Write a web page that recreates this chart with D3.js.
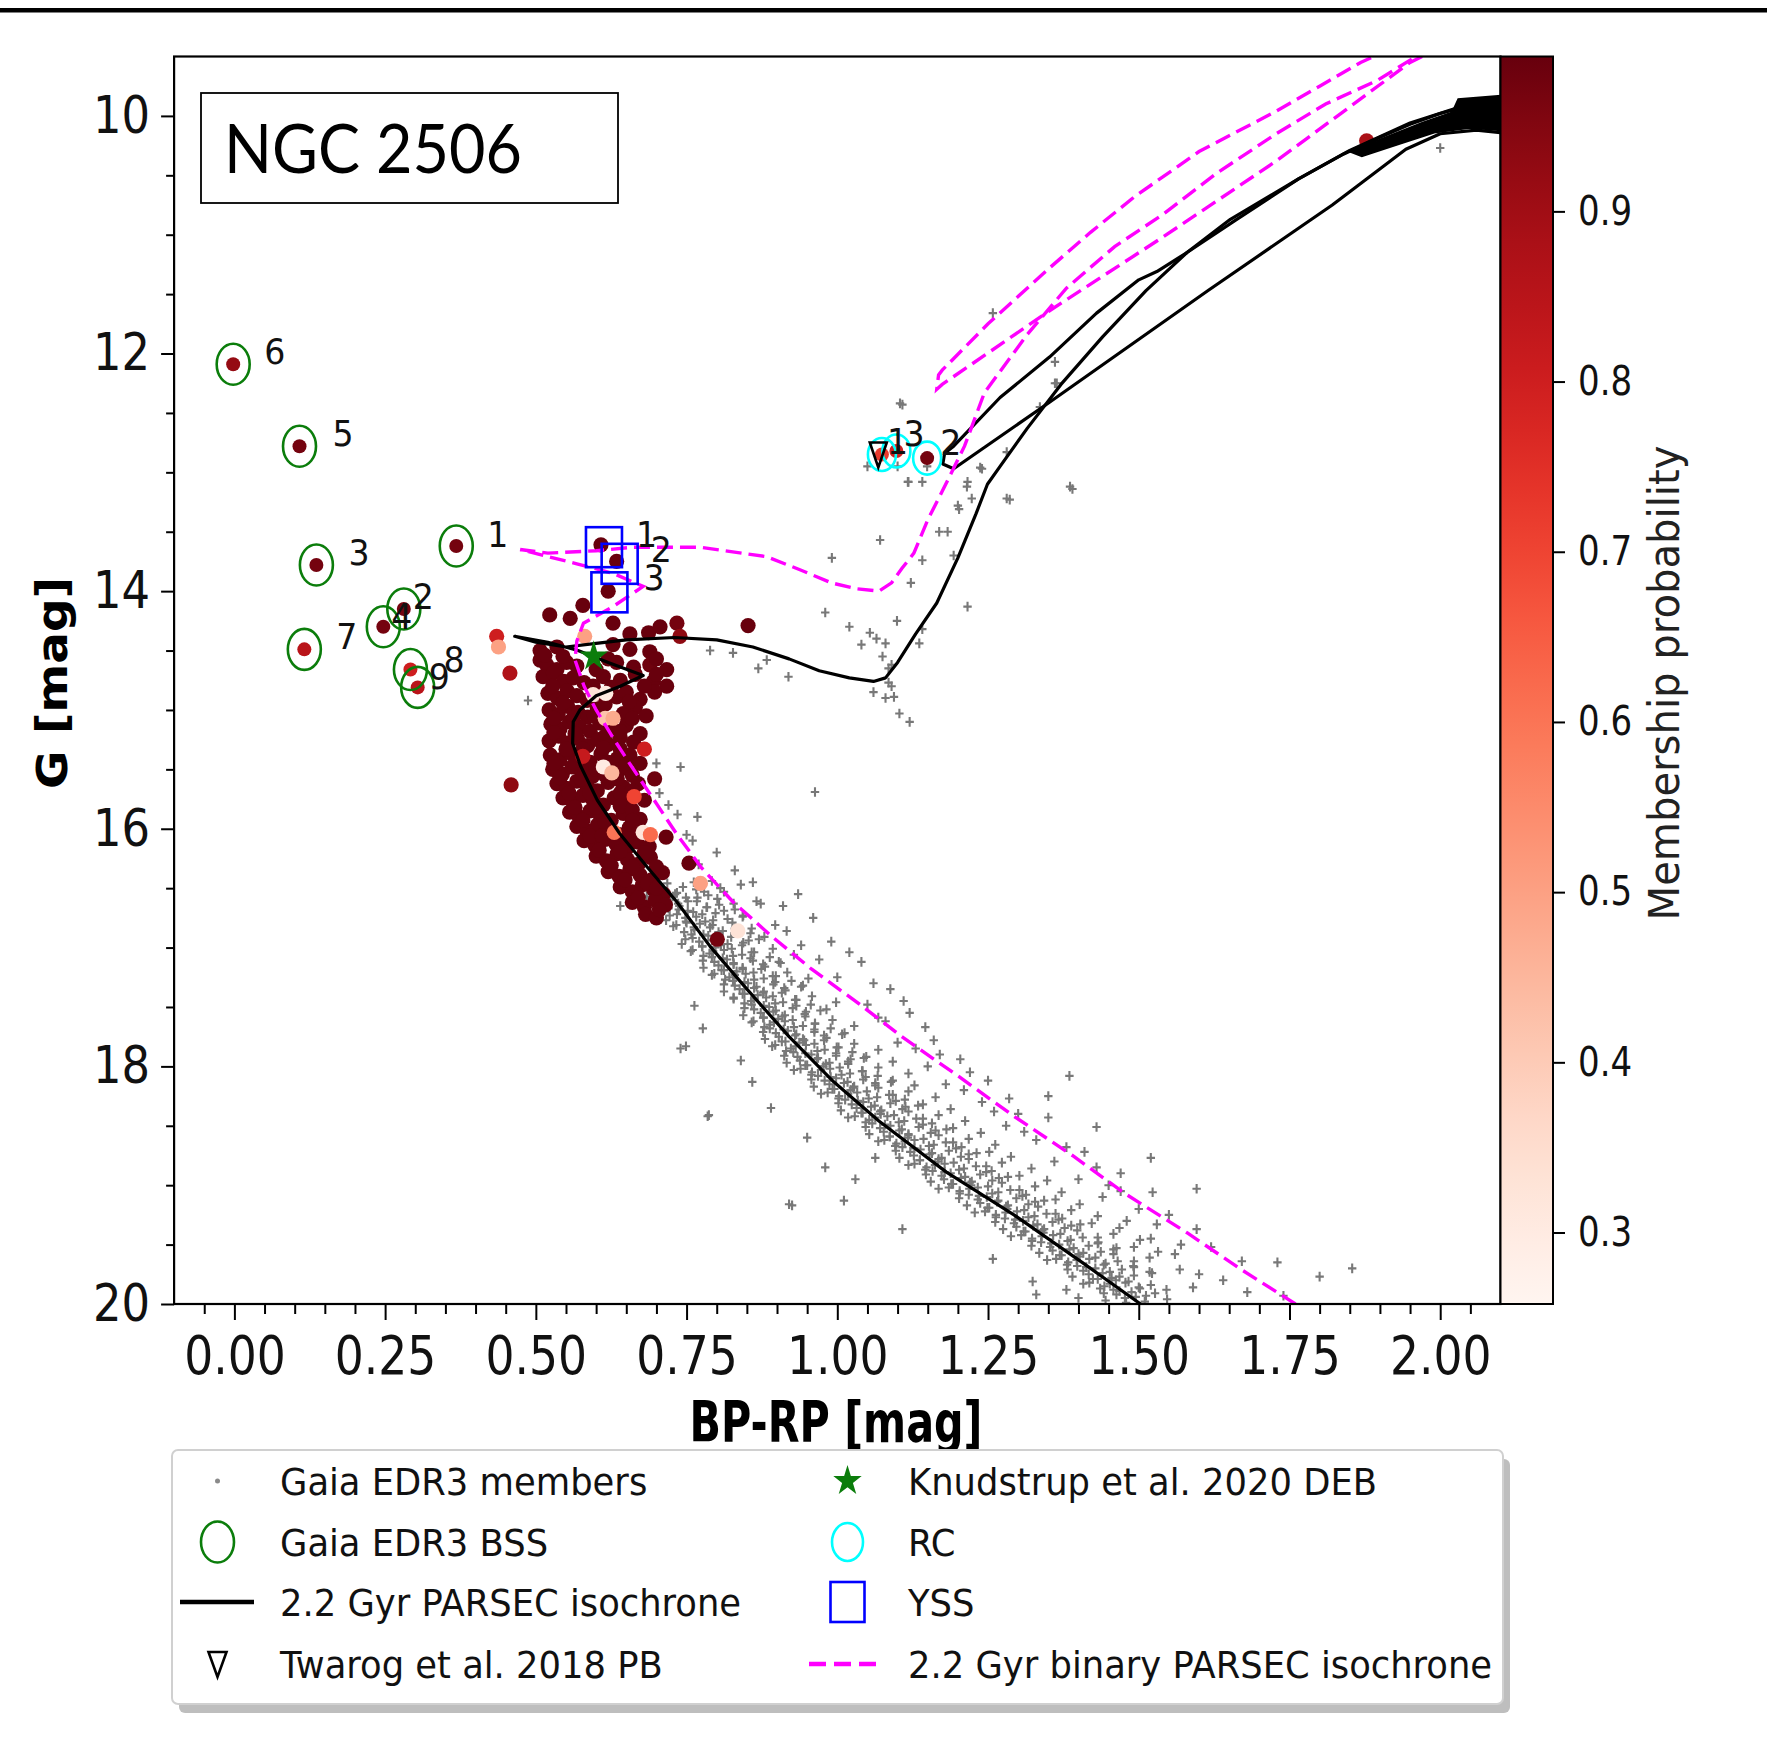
<!DOCTYPE html>
<html><head><meta charset="utf-8">
<script src="https://cdn.jsdelivr.net/npm/d3@7"></script>
<style>body{margin:0;background:#fff}svg{display:block}</style>
</head><body>
<svg id="c" width="1767" height="1755"></svg>
<script>
// ---------------- DATA ----------------
const xMajorTicks = [0,0.25,0.5,0.75,1.0,1.25,1.5,1.75,2.0];
const yMajorTicks = [10,12,14,16,18,20];
const cbTicks = [0.3,0.4,0.5,0.6,0.7,0.8,0.9];
const xDomain = [-0.1, 2.1];
const yDomain = [9.5, 20];
const probDomain = [0.258, 0.991];

// Gaia EDR3 members (gray) [BP-RP, G]
const gaiaMembers = [
[0.705,16.52],[0.718,16.46],[0.731,16.55],[0.744,16.49],[0.762,16.45],[0.779,16.53],[0.806,16.50],[0.84,16.47],
[0.712,16.60],[0.727,16.57],[0.738,16.65],[0.752,16.61],[0.768,16.58],[0.783,16.66],[0.801,16.59],[0.828,16.63],[0.866,16.61],
[0.722,16.73],[0.737,16.68],[0.748,16.75],[0.761,16.70],[0.776,16.72],[0.794,16.77],[0.812,16.69],[0.843,16.74],
[0.733,16.81],[0.749,16.78],[0.763,16.85],[0.772,16.80],[0.789,16.83],[0.803,16.87],[0.826,16.79],[0.858,16.84],[0.897,16.81],
[0.748,16.93],[0.758,16.89],[0.771,16.95],[0.786,16.90],[0.797,16.92],[0.818,16.97],[0.832,16.88],[0.853,16.94],[0.879,16.91],
[0.757,17.03],[0.776,16.99],[0.788,17.05],[0.798,17.00],[0.812,17.02],[0.827,17.07],[0.842,16.98],[0.858,17.04],[0.893,17.01],[0.928,17.06],
[0.777,17.11],[0.792,17.08],[0.803,17.15],[0.817,17.10],[0.828,17.13],[0.843,17.17],[0.856,17.09],[0.877,17.14],[0.903,17.12],
[0.792,17.23],[0.808,17.19],[0.821,17.25],[0.833,17.20],[0.848,17.22],[0.862,17.27],[0.874,17.18],[0.893,17.24],[0.917,17.21],[0.952,17.26],
[0.812,17.31],[0.827,17.28],[0.838,17.35],[0.852,17.30],[0.866,17.33],[0.878,17.37],[0.897,17.29],[0.912,17.34],[0.943,17.32],
[0.828,17.43],[0.843,17.39],[0.857,17.45],[0.868,17.40],[0.882,17.42],[0.897,17.47],[0.908,17.38],[0.932,17.44],[0.958,17.41],[0.998,17.46],
[0.846,17.51],[0.858,17.48],[0.873,17.55],[0.887,17.50],[0.898,17.53],[0.913,17.57],[0.932,17.49],[0.948,17.54],[0.982,17.52],
[0.858,17.63],[0.877,17.59],[0.888,17.65],[0.902,17.60],[0.913,17.62],[0.928,17.67],[0.947,17.58],[0.963,17.64],[0.992,17.61],[1.028,17.66],
[0.877,17.71],[0.888,17.68],[0.903,17.75],[0.918,17.70],[0.932,17.73],[0.943,17.77],[0.962,17.69],[0.978,17.74],[1.012,17.72],
[0.892,17.83],[0.908,17.79],[0.923,17.85],[0.937,17.80],[0.948,17.82],[0.967,17.87],[0.978,17.78],[1.002,17.84],[1.028,17.81],[1.068,17.86],
[0.912,17.91],[0.927,17.88],[0.938,17.95],[0.957,17.90],[0.968,17.93],[0.987,17.97],[0.998,17.89],[1.022,17.94],[1.048,17.92],[1.092,17.96],
[0.928,18.03],[0.947,17.99],[0.958,18.05],[0.977,18.00],[0.988,18.02],[1.007,18.07],[1.018,17.98],[1.042,18.04],[1.068,18.01],[1.118,18.06],
[0.957,18.11],[0.968,18.08],[0.987,18.15],[0.998,18.10],[1.017,18.13],[1.028,18.17],[1.047,18.09],[1.063,18.14],[1.092,18.12],[1.128,18.16],
[0.973,18.23],[0.992,18.19],[1.003,18.25],[1.022,18.20],[1.033,18.22],[1.052,18.27],[1.068,18.18],[1.092,18.24],[1.118,18.21],[1.163,18.26],
[1.002,18.31],[1.013,18.28],[1.032,18.35],[1.043,18.30],[1.062,18.33],[1.073,18.37],[1.097,18.29],[1.113,18.34],[1.142,18.32],[1.188,18.36],
[1.018,18.43],[1.042,18.39],[1.053,18.45],[1.072,18.40],[1.083,18.42],[1.102,18.47],[1.118,18.38],[1.142,18.44],[1.168,18.41],[1.212,18.46],
[1.047,18.51],[1.058,18.48],[1.077,18.55],[1.088,18.50],[1.107,18.53],[1.118,18.57],[1.142,18.49],[1.163,18.54],[1.192,18.52],[1.238,18.56],
[1.068,18.63],[1.087,18.59],[1.098,18.65],[1.117,18.60],[1.128,18.62],[1.152,18.67],[1.168,18.58],[1.192,18.64],[1.218,18.61],[1.262,18.66],
[1.097,18.71],[1.108,18.68],[1.127,18.75],[1.138,18.70],[1.157,18.73],[1.173,18.77],[1.197,18.69],[1.218,18.74],[1.252,18.72],[1.288,18.76],
[1.118,18.83],[1.137,18.79],[1.148,18.85],[1.167,18.80],[1.178,18.82],[1.202,18.87],[1.218,18.78],[1.247,18.84],[1.273,18.81],[1.322,18.86],
[1.147,18.91],[1.158,18.88],[1.177,18.95],[1.188,18.90],[1.212,18.93],[1.223,18.97],[1.247,18.89],[1.268,18.94],[1.302,18.92],[1.348,18.96],
[1.168,19.03],[1.192,18.99],[1.203,19.05],[1.222,19.00],[1.233,19.02],[1.257,19.07],[1.273,18.98],[1.302,19.04],[1.328,19.01],[1.372,19.06],
[1.202,19.11],[1.218,19.08],[1.237,19.15],[1.248,19.10],[1.267,19.13],[1.283,19.17],[1.307,19.09],[1.328,19.14],[1.362,19.12],[1.402,19.16],
[1.228,19.23],[1.252,19.19],[1.263,19.25],[1.282,19.20],[1.298,19.22],[1.317,19.27],[1.333,19.18],[1.362,19.24],[1.388,19.21],[1.432,19.26],
[1.262,19.31],[1.278,19.28],[1.297,19.35],[1.308,19.30],[1.332,19.33],[1.343,19.37],[1.367,19.29],[1.388,19.34],[1.422,19.32],[1.468,19.36],
[1.288,19.43],[1.312,19.39],[1.323,19.45],[1.342,19.40],[1.358,19.42],[1.382,19.47],[1.398,19.38],[1.432,19.44],[1.458,19.41],[1.502,19.46],
[1.322,19.51],[1.338,19.48],[1.357,19.55],[1.368,19.50],[1.392,19.53],[1.408,19.57],[1.432,19.49],[1.458,19.54],[1.492,19.52],[1.532,19.56],
[1.348,19.63],[1.372,19.59],[1.383,19.65],[1.402,19.60],[1.418,19.62],[1.442,19.67],[1.458,19.58],[1.492,19.64],[1.518,19.61],
[1.382,19.71],[1.398,19.68],[1.417,19.75],[1.428,19.70],[1.452,19.73],[1.468,19.77],[1.492,19.69],[1.522,19.74],
[1.408,19.83],[1.432,19.79],[1.443,19.85],[1.462,19.80],[1.478,19.82],[1.502,19.87],
[1.442,19.91],[1.458,19.88],[1.477,19.95],[1.488,19.90],[1.512,19.93],
// scattered / binaries / outliers
[0.74,17.85],[0.785,18.42],[0.92,19.16],[1.854,19.70],[1.80,19.77],[1.73,19.65],[1.671,19.64],[1.596,19.03],[1.596,19.37],[1.568,19.71],
[1.52,18.77],[1.523,19.06],[1.47,18.90],[1.43,18.51],[1.385,18.08],[1.35,18.25],[1.285,18.27],[1.35,18.43],[1.204,17.94],[1.146,17.67],
[1.088,17.35],[1.108,19.37],[1.258,19.62],[1.324,19.81],[1.59,19.86],[1.62,19.52],[1.55,19.25],[1.50,19.20],[1.45,19.00],[1.41,18.72],
[1.31,18.55],[1.26,18.38],[1.22,18.05],[1.17,17.90],[1.12,17.55],[1.06,17.30],[1.04,17.12],[0.99,16.95],[0.963,15.69],[0.935,16.55],
[0.873,16.63],[0.916,16.86],[1.02,17.04],[1.068,17.59],[0.763,17.49],[0.777,17.68],[0.749,17.83],[0.787,18.41],[0.74,15.48],[0.735,15.88],
[0.768,15.90],[0.792,16.44],[0.64,16.65],[0.487,14.92],[0.70,15.45],[0.925,19.17],[1.011,19.13],[1.063,18.77],[0.859,18.13],[0.95,18.60],
[0.98,18.85],[1.03,18.95],[0.89,18.35],[0.84,17.95],[1.74,19.93],[1.68,19.90],[1.40,19.95],[1.33,19.92],[1.38,19.88],
[0.77,16.30],[0.80,16.20],[0.76,16.10],[0.83,16.35],[0.72,15.80],[0.75,16.05],[0.86,16.45],[0.91,16.65],[0.96,16.75],[0.705,15.70],
[1.08,17.62],[1.10,17.80],[1.15,18.00],[1.18,18.15],[1.24,18.30],[1.28,18.50],[1.33,18.62],[1.36,18.80],[1.40,18.95],[1.44,19.10],
[1.48,19.30],[1.52,19.45],[1.56,19.58],[1.60,19.75],[1.05,17.48],[1.00,17.25],[0.97,17.10],[0.94,16.98],[1.13,17.85],[1.21,18.20],
[1.30,18.40],[1.38,18.68],[1.43,18.85],[1.47,19.05],[1.53,19.33],[1.57,19.50],[1.64,19.80],[1.25,18.12],[1.16,17.78],[1.11,17.45],
// subgiant / giant region
[0.789,14.50],[0.827,14.52],[0.869,14.65],[0.883,14.58],[0.919,14.72],[0.991,13.72],[1.054,14.35],[1.065,14.40],[1.04,14.45],[1.075,14.55],
[1.085,14.65],[1.09,14.80],[1.08,14.90],[1.06,14.85],[1.099,14.25],[1.141,14.32],[1.136,14.44],[1.09,14.62],[1.085,14.77],[1.094,14.89],
[1.08,14.44],[1.122,13.93],[1.141,13.74],[1.071,13.57],[1.193,13.70],[1.169,13.50],[1.183,13.50],[1.202,13.31],[1.118,13.08],[1.141,13.08],
[1.216,13.08],[1.216,14.13],[1.39,13.14],[1.286,13.23],[1.24,12.97],[1.104,12.42],[1.117,13.08],[1.237,12.96],[1.215,13.12],[1.223,13.22],
[1.281,13.22],[1.386,13.12],[1.2,13.28],[1.364,12.25],[1.336,12.45],[1.281,12.83],[1.258,11.66],[1.108,12.43],[1.361,12.07],[1.361,12.25],
[1.149,12.95],[1.10,12.95],[1.05,12.95],[2.0,10.27],[1.103,15.03],[1.12,15.10],[0.98,14.18],[1.02,14.30]
];
// Gaia EDR3 members, dense main-sequence ridge (gray) [BP-RP, G]
const gaiaRidge = [
[0.684,16.57],[0.702,16.52],[0.718,16.59],[0.734,16.54],[0.749,16.58],[0.766,16.51],[0.786,16.56],[0.812,16.53],
[0.702,16.62],[0.72,16.67],[0.736,16.63],[0.752,16.69],[0.767,16.61],[0.784,16.66],[0.804,16.64],[0.83,16.68],
[0.716,16.77],[0.734,16.72],[0.75,16.79],[0.766,16.74],[0.781,16.78],[0.798,16.71],[0.818,16.76],[0.844,16.73],
[0.728,16.82],[0.746,16.87],[0.762,16.83],[0.778,16.89],[0.793,16.81],[0.81,16.86],[0.83,16.84],[0.856,16.88],
[0.742,16.97],[0.76,16.92],[0.776,16.99],[0.792,16.94],[0.807,16.98],[0.824,16.91],[0.844,16.96],[0.87,16.93],
[0.76,17.02],[0.778,17.07],[0.794,17.03],[0.81,17.09],[0.825,17.01],[0.842,17.06],[0.862,17.04],[0.888,17.08],
[0.778,17.17],[0.796,17.12],[0.812,17.19],[0.828,17.14],[0.843,17.18],[0.86,17.11],[0.88,17.16],[0.906,17.13],
[0.796,17.22],[0.814,17.27],[0.83,17.23],[0.846,17.29],[0.861,17.21],[0.878,17.26],[0.898,17.24],[0.924,17.28],
[0.812,17.37],[0.83,17.32],[0.846,17.39],[0.862,17.34],[0.877,17.38],[0.894,17.31],[0.914,17.36],[0.94,17.33],
[0.828,17.42],[0.846,17.47],[0.862,17.43],[0.878,17.49],[0.893,17.41],[0.91,17.46],[0.93,17.44],[0.956,17.48],
[0.844,17.57],[0.862,17.52],[0.878,17.59],[0.894,17.54],[0.909,17.58],[0.926,17.51],[0.946,17.56],[0.972,17.53],
[0.861,17.62],[0.879,17.67],[0.895,17.63],[0.911,17.69],[0.926,17.61],[0.943,17.66],[0.963,17.64],[0.989,17.68],
[0.88,17.77],[0.898,17.72],[0.914,17.79],[0.93,17.74],[0.945,17.78],[0.962,17.71],[0.982,17.76],[1.008,17.73],
[0.897,17.82],[0.915,17.87],[0.931,17.83],[0.947,17.89],[0.962,17.81],[0.979,17.86],[0.999,17.84],[1.025,17.88],
[0.916,17.97],[0.934,17.92],[0.95,17.99],[0.966,17.94],[0.981,17.98],[0.998,17.91],[1.018,17.96],[1.044,17.93],
[0.939,18.02],[0.957,18.07],[0.973,18.03],[0.989,18.09],[1.004,18.01],[1.021,18.06],[1.041,18.04],[1.067,18.08],
[0.961,18.17],[0.979,18.12],[0.995,18.19],[1.011,18.14],[1.026,18.18],[1.043,18.11],[1.063,18.16],[1.089,18.13],
[0.984,18.22],[1.002,18.27],[1.018,18.23],[1.034,18.29],[1.049,18.21],[1.066,18.26],[1.086,18.24],[1.112,18.28],
[1.006,18.37],[1.024,18.32],[1.04,18.39],[1.056,18.34],[1.071,18.38],[1.088,18.31],[1.108,18.36],[1.134,18.33],
[1.029,18.42],[1.047,18.47],[1.063,18.43],[1.079,18.49],[1.094,18.41],[1.111,18.46],[1.131,18.44],[1.157,18.48],
[1.053,18.57],[1.071,18.52],[1.087,18.59],[1.103,18.54],[1.118,18.58],[1.135,18.51],[1.155,18.56],[1.181,18.53],
[1.078,18.62],[1.096,18.67],[1.112,18.63],[1.128,18.69],[1.143,18.61],[1.16,18.66],[1.18,18.64],[1.206,18.68],
[1.103,18.77],[1.121,18.72],[1.137,18.79],[1.153,18.74],[1.168,18.78],[1.185,18.71],[1.205,18.76],[1.231,18.73],
[1.128,18.82],[1.146,18.87],[1.162,18.83],[1.178,18.89],[1.193,18.81],[1.21,18.86],[1.23,18.84],[1.256,18.88],
[1.155,18.97],[1.173,18.92],[1.189,18.99],[1.205,18.94],[1.22,18.98],[1.237,18.91],[1.257,18.96],[1.283,18.93],
[1.185,19.02],[1.203,19.07],[1.219,19.03],[1.235,19.09],[1.25,19.01],[1.267,19.06],[1.287,19.04],[1.313,19.08],
[1.215,19.17],[1.233,19.12],[1.249,19.19],[1.265,19.14],[1.28,19.18],[1.297,19.11],[1.317,19.16],[1.343,19.13],
[1.245,19.22],[1.263,19.27],[1.279,19.23],[1.295,19.29],[1.31,19.21],[1.327,19.26],[1.347,19.24],[1.373,19.28],
[1.275,19.37],[1.293,19.32],[1.309,19.39],[1.325,19.34],[1.34,19.38],[1.357,19.31],[1.377,19.36],[1.403,19.33],
[1.305,19.42],[1.323,19.47],[1.339,19.43],[1.355,19.49],[1.37,19.41],[1.387,19.46],[1.407,19.44],[1.433,19.48],
[1.335,19.57],[1.353,19.52],[1.369,19.59],[1.385,19.54],[1.40,19.58],[1.417,19.51],[1.437,19.56],[1.463,19.53],
[1.363,19.62],[1.381,19.67],[1.397,19.63],[1.413,19.69],[1.428,19.61],[1.445,19.66],[1.465,19.64],[1.491,19.68],
[1.39,19.77],[1.408,19.72],[1.424,19.79],[1.44,19.74],[1.455,19.78],[1.472,19.71],[1.492,19.76],[1.518,19.73],
[1.418,19.82],[1.436,19.87],[1.452,19.83],[1.468,19.89],[1.483,19.81],[1.50,19.86],[1.52,19.84],[1.546,19.88],
[1.445,19.97],[1.463,19.92],[1.479,19.99],[1.495,19.94],[1.51,19.98],[1.527,19.91],[1.547,19.96]
];

// High-probability members coloured by membership probability [BP-RP, G, P]
const members = [
[0.507,14.50,0.99],[0.535,14.47,0.99],[0.628,14.45,0.99],[0.656,14.49,0.99],[0.689,14.51,0.99],
[0.507,14.58,0.99],[0.518,14.62,0.99],[0.535,14.66,0.99],[0.551,14.60,0.99],[0.568,14.63,0.99],[0.634,14.60,0.99],[0.662,14.64,0.99],[0.689,14.62,0.98],[0.717,14.66,0.99],
[0.512,14.72,0.99],[0.529,14.69,0.99],[0.546,14.76,0.99],[0.562,14.73,0.99],[0.58,14.77,0.99],[0.612,14.72,0.99],[0.64,14.75,0.99],[0.665,14.70,0.99],[0.695,14.76,0.99],[0.717,14.80,0.99],
[0.52,14.86,0.99],[0.536,14.90,0.99],[0.552,14.84,0.99],[0.568,14.88,0.99],[0.585,14.92,0.99],[0.60,14.86,0.99],[0.634,14.89,0.99],[0.65,14.85,0.99],[0.673,14.91,0.99],[0.697,14.85,0.99],
[0.522,15.00,0.99],[0.537,15.04,0.99],[0.553,14.97,0.99],[0.57,15.02,0.99],[0.586,15.06,0.99],[0.602,14.99,0.99],[0.645,15.03,0.99],[0.665,14.98,0.99],[0.683,15.05,0.99],
[0.525,15.12,0.99],[0.54,15.16,0.99],[0.556,15.10,0.99],[0.572,15.14,0.99],[0.59,15.18,0.99],[0.606,15.11,0.99],[0.625,15.15,0.99],[0.65,15.13,0.99],[0.673,15.20,0.99],
[0.522,15.26,0.99],[0.538,15.22,0.99],[0.553,15.28,0.99],[0.569,15.24,0.99],[0.586,15.30,0.99],[0.603,15.25,0.99],[0.62,15.29,0.99],[0.64,15.23,0.99],[0.662,15.27,0.99],
[0.524,15.38,0.99],[0.54,15.42,0.99],[0.556,15.36,0.99],[0.573,15.40,0.99],[0.59,15.44,0.99],[0.608,15.37,0.99],[0.635,15.41,0.99],[0.656,15.38,0.99],[0.673,15.45,0.99],
[0.528,15.50,0.99],[0.544,15.54,0.99],[0.56,15.48,0.99],[0.577,15.52,0.99],[0.594,15.56,0.99],[0.64,15.50,0.99],[0.66,15.55,0.99],
[0.535,15.62,0.99],[0.551,15.66,0.99],[0.568,15.60,0.99],[0.585,15.64,0.99],[0.602,15.68,0.99],[0.62,15.61,0.99],[0.645,15.65,0.99],[0.67,15.62,0.99],
[0.545,15.74,0.99],[0.562,15.78,0.99],[0.578,15.72,0.99],[0.595,15.76,0.99],[0.612,15.80,0.99],[0.63,15.74,0.99],[0.65,15.78,0.99],[0.68,15.76,0.99],
[0.556,15.86,0.99],[0.572,15.90,0.99],[0.59,15.85,0.99],[0.607,15.89,0.99],[0.625,15.93,0.99],[0.645,15.87,0.99],[0.673,15.92,0.99],
[0.568,15.98,0.99],[0.585,16.02,0.99],[0.602,15.97,0.99],[0.62,16.01,0.99],[0.638,16.05,0.99],[0.655,15.99,0.99],[0.716,16.07,0.99],
[0.58,16.10,0.99],[0.598,16.14,0.99],[0.615,16.09,0.99],[0.633,16.13,0.99],[0.65,16.17,0.99],[0.668,16.11,0.99],[0.688,16.15,0.99],
[0.60,16.23,0.99],[0.617,16.27,0.99],[0.635,16.21,0.99],[0.652,16.26,0.99],[0.67,16.30,0.99],[0.69,16.24,0.99],[0.754,16.29,0.99],
[0.62,16.36,0.99],[0.638,16.40,0.99],[0.656,16.34,0.99],[0.673,16.39,0.99],[0.692,16.43,0.99],[0.71,16.37,0.99],
[0.64,16.49,0.99],[0.66,16.53,0.99],[0.677,16.47,0.99],[0.695,16.51,0.99],[0.712,16.55,0.99],
[0.66,16.62,0.99],[0.68,16.66,0.99],[0.698,16.60,0.99],[0.715,16.64,0.99],
[0.682,16.72,0.99],[0.70,16.75,0.99],
[0.515,14.54,0.99],[0.545,14.55,0.99],[0.60,14.66,0.99],[0.62,14.57,0.99],[0.70,14.57,0.99],
[0.528,14.80,0.99],[0.595,14.80,0.99],[0.625,14.81,0.99],[0.68,14.80,0.99],[0.70,14.70,0.99],
[0.545,14.94,0.99],[0.615,14.95,0.99],[0.655,14.93,0.99],[0.53,15.07,0.99],[0.562,15.07,0.99],[0.597,15.05,0.99],[0.66,15.07,0.99],
[0.53,15.19,0.99],[0.565,15.20,0.99],[0.615,15.22,0.99],[0.64,15.18,0.99],[0.55,15.33,0.99],[0.578,15.33,0.99],[0.64,15.33,0.99],[0.612,15.32,0.99],
[0.53,15.45,0.99],[0.565,15.45,0.99],[0.60,15.50,0.99],[0.62,15.44,0.99],[0.65,15.45,0.99],[0.54,15.57,0.99],[0.575,15.58,0.99],[0.615,15.55,0.99],[0.635,15.58,0.99],
[0.555,15.70,0.99],[0.59,15.70,0.99],[0.64,15.70,0.99],[0.66,15.68,0.99],[0.565,15.82,0.99],[0.60,15.82,0.99],[0.64,15.81,0.99],[0.66,15.84,0.99],
[0.578,15.93,0.99],[0.615,15.95,0.99],[0.66,15.93,0.99],[0.59,16.06,0.99],[0.61,16.06,0.99],[0.65,16.08,0.99],[0.67,16.04,0.99],
[0.605,16.18,0.99],[0.64,16.19,0.99],[0.68,16.20,0.99],[0.625,16.31,0.99],[0.66,16.32,0.99],[0.70,16.32,0.99],[0.648,16.43,0.99],[0.685,16.46,0.99],[0.70,16.50,0.99],[0.67,16.58,0.99],[0.705,16.68,0.99],
[0.523,14.20,0.99],[0.557,14.23,0.99],[0.578,14.12,0.99],[0.608,13.61,0.99],[0.634,13.75,0.99],[0.62,14.00,0.99],
[0.628,14.27,0.99],[0.656,14.36,0.99],[0.687,14.35,0.99],[0.706,14.30,0.99],[0.734,14.27,0.97],[0.739,14.38,0.93],[0.852,14.29,0.99],
[0.435,14.38,0.80],[0.438,14.47,0.50],[0.457,14.69,0.87],[0.459,15.63,0.93],
[0.581,14.38,0.50],[0.595,14.87,0.33],[0.615,15.07,0.42],[0.628,15.07,0.48],[0.612,15.48,0.30],[0.626,15.53,0.45],[0.616,14.86,0.30],
[0.68,15.33,0.80],[0.663,15.73,0.70],[0.678,16.03,0.32],[0.69,16.05,0.62],[0.773,16.46,0.50],[0.801,16.93,0.97],[0.835,16.86,0.33],
[0.63,16.03,0.60],[0.578,15.39,0.82],[0.697,15.58,0.98],[1.878,10.21,0.88]
];

// Blue stragglers [BP-RP, G, P, label]
const bss = [
[0.368,13.62,0.97,"1"],[0.281,14.15,0.97,"2"],[0.136,13.78,0.97,"3"],[0.247,14.30,0.97,"4"],[0.108,12.78,0.97,"5"],
[-0.002,12.09,0.92,"6"],[0.116,14.49,0.85,"7"],[0.292,14.66,0.80,"8"],[0.304,14.81,0.85,"9"]
];
// Red clump [BP-RP, G, P, label]
const rc = [[1.074,12.85,0.72,"1"],[1.149,12.88,0.97,"2"],[1.098,12.82,0.80,"3"]];
// Yellow straggler stars [BP-RP, G, label]
const yss = [[0.613,13.63,"1"],[0.639,13.77,"2"],[0.622,14.01,"3"]];
// Knudstrup et al. 2020 DEB
const deb = [[0.596,14.55]];
// Twarog et al. 2018 PB
const pb = [[1.068,12.85]];

// 2.2 Gyr PARSEC isochrone (polylines)
const isoMain = [[1.503,20.0],[1.406,19.65],[1.293,19.25],[1.181,18.89],[1.069,18.46],[0.994,18.13],[0.92,17.75],[0.845,17.32],[0.789,16.99],[0.733,16.61],[0.686,16.33],[0.639,16.04],[0.602,15.76],[0.574,15.47],[0.561,15.28],[0.562,15.10],[0.573,15.0],[0.60,14.88],[0.64,14.80],[0.678,14.71],[0.62,14.60],[0.57,14.50],[0.52,14.43],[0.465,14.38],[0.50,14.43],[0.55,14.47],[0.60,14.44],[0.65,14.41],[0.73,14.39],[0.80,14.41],[0.86,14.47],[0.92,14.57],[0.97,14.67],[1.02,14.73],[1.06,14.76],[1.08,14.73],[1.10,14.60],[1.13,14.36],[1.165,14.10],[1.20,13.72],[1.23,13.35],[1.249,13.10],[1.27,12.95],[1.315,12.63],[1.371,12.26],[1.44,11.86],[1.512,11.47],[1.58,11.15],[1.652,10.87],[1.765,10.53],[1.84,10.32],[1.90,10.18],[1.95,10.07],[2.00,9.98],[2.05,9.91],[2.10,9.86]];
const isoJump = [[2.10,10.14],[2.06,10.12],[2.00,10.15],[1.943,10.28],[1.821,10.75],[1.615,11.47],[1.352,12.41],[1.193,12.97],[1.175,12.93],[1.178,12.84],[1.193,12.78],[1.27,12.37],[1.352,12.03],[1.43,11.66],[1.50,11.38],[1.53,11.31],[1.58,11.15],[1.66,10.88],[1.765,10.53],[1.85,10.29],[1.95,10.06],[2.03,9.93],[2.10,9.87]];
const isoTip = [[1.85,10.30],[1.90,10.20],[1.97,10.06],[2.02,9.97],[2.03,9.86],[2.10,9.83],[2.10,10.12],[2.05,10.10],[1.99,10.14],[1.93,10.24],[1.87,10.34]];
// 2.2 Gyr binary PARSEC isochrone (polylines)
const binMain = [[1.76,20.0],[1.667,19.70],[1.58,19.40],[1.48,19.08],[1.39,18.75],[1.293,18.42],[1.20,18.08],[1.107,17.75],[1.03,17.45],[0.957,17.18],[0.89,16.90],[0.826,16.61],[0.775,16.33],[0.733,16.04],[0.695,15.75],[0.658,15.47],[0.63,15.25],[0.60,15.0],[0.58,14.80],[0.565,14.58],[0.568,14.42],[0.579,14.27],[0.628,14.13],[0.678,13.96],[0.628,13.85],[0.568,13.77],[0.474,13.65],[0.52,13.68],[0.60,13.66],[0.662,13.63],[0.772,13.63],[0.883,13.71],[0.938,13.82],[0.99,13.93],[1.032,13.98],[1.069,14.0],[1.09,13.93],[1.107,13.81],[1.127,13.68],[1.15,13.40],[1.174,13.16],[1.211,12.78],[1.244,12.33],[1.315,11.84],[1.38,11.45],[1.46,11.10],[1.54,10.83],[1.63,10.48],[1.728,10.15],[1.81,9.90],[1.896,9.70],[1.96,9.50]];
const binJump = [[1.97,9.50],[1.95,9.55],[1.728,10.38],[1.54,11.02],[1.352,11.64],[1.174,12.26],[1.165,12.30],[1.168,12.18],[1.174,12.14],[1.25,11.75],[1.352,11.28],[1.42,10.98],[1.493,10.68],[1.60,10.30],[1.728,9.96],[1.80,9.75],[1.868,9.55],[1.89,9.50]];

const legendLeft = ["Gaia EDR3 members","Gaia EDR3 BSS","2.2 Gyr PARSEC isochrone","Twarog et al. 2018 PB"];
const legendRight = ["Knudstrup et al. 2020 DEB","RC","YSS","2.2 Gyr binary PARSEC isochrone"];

// ---------------- LAYOUT ----------------
const svg = d3.select("#c");
const P = {l:174.1, r:1500.5, t:56.5, b:1304};
const x = d3.scaleLinear().domain(xDomain).range([P.l, P.r]);
const y = d3.scaleLinear().domain(yDomain).range([P.t, P.b]);
const cb = {l:1500.5, r:1553};
const cy = d3.scaleLinear().domain(probDomain).range([P.b, P.t]);
const col = p => d3.interpolateReds((p - probDomain[0])/(probDomain[1]-probDomain[0]));
const FONT = "DejaVu Sans";

function squeeze(sel, k){
  sel.each(function(){
    const w = this.getComputedTextLength();
    this.setAttribute("textLength", (w*k).toFixed(1));
    this.setAttribute("lengthAdjust","spacingAndGlyphs");
  });
}

svg.append("rect").attr("width",1767).attr("height",1755).attr("fill","#fff");
svg.append("rect").attr("x",0).attr("y",8).attr("width",1767).attr("height",4.5).attr("fill","#000");

const defs = svg.append("defs");
defs.append("clipPath").attr("id","clip").append("rect")
  .attr("x",P.l).attr("y",P.t).attr("width",P.r-P.l).attr("height",P.b-P.t);
const grad = defs.append("linearGradient").attr("id","cbg")
  .attr("x1",0).attr("y1",1).attr("x2",0).attr("y2",0);
d3.range(0,1.0001,0.05).forEach(t=>grad.append("stop").attr("offset",t).attr("stop-color",d3.interpolateReds(t)));

const plot = svg.append("g").attr("clip-path","url(#clip)");

// gray members (small plus)
plot.append("g").selectAll("path").data(gaiaMembers.concat(gaiaRidge)).join("path")
  .attr("transform",d=>`translate(${x(d[0])},${y(d[1])})`)
  .attr("d","M-4.2,0H4.2M0,-4.8V4.8")
  .attr("stroke","#787878").attr("stroke-width",2.1).attr("fill","none");

// coloured members
plot.append("g").selectAll("circle").data(members).join("circle")
  .attr("cx",d=>x(d[0])).attr("cy",d=>y(d[1])).attr("r",7.6)
  .attr("fill",d=>col(d[2]));

// isochrones
const line = d3.line().x(d=>x(d[0])).y(d=>y(d[1]));
plot.append("path").attr("d",line(isoTip)+"Z").attr("fill","#000").attr("stroke","#000").attr("stroke-width",2);
[isoMain, isoJump].forEach(a=>plot.append("path").attr("d",line(a)).attr("fill","none")
  .attr("stroke","#000").attr("stroke-width",3.2).attr("stroke-linejoin","round"));
[binMain, binJump].forEach(a=>plot.append("path").attr("d",line(a)).attr("fill","none")
  .attr("stroke","#ff00ff").attr("stroke-width",3.4).attr("stroke-dasharray","16,7"));

// BSS
const gB = plot.append("g");
gB.selectAll("circle").data(bss).join("circle").attr("cx",d=>x(d[0])).attr("cy",d=>y(d[1])).attr("r",7).attr("fill",d=>col(d[2]));
gB.selectAll("ellipse").data(bss).join("ellipse").attr("cx",d=>x(d[0])).attr("cy",d=>y(d[1]))
  .attr("rx",16.5).attr("ry",20.5).attr("fill","none").attr("stroke","#0b7d0b").attr("stroke-width",2.6);
// RC
const gR = plot.append("g");
gR.selectAll("circle").data(rc).join("circle").attr("cx",d=>x(d[0])).attr("cy",d=>y(d[1])).attr("r",7).attr("fill",d=>col(d[2]));
gR.selectAll("ellipse").data(rc).join("ellipse").attr("cx",d=>x(d[0])).attr("cy",d=>y(d[1]))
  .attr("rx",14).attr("ry",16.5).attr("fill","none").attr("stroke","#00ffff").attr("stroke-width",2.6);
// PB triangle
plot.append("g").selectAll("path").data(pb).join("path")
  .attr("transform",d=>`translate(${x(d[0])},${y(d[1])})`)
  .attr("d","M-8.5,-12L8.5,-12L0,13Z").attr("fill","none").attr("stroke","#000").attr("stroke-width",2.6);
// YSS
plot.append("g").selectAll("rect").data(yss).join("rect")
  .attr("x",d=>x(d[0])-18).attr("y",d=>y(d[1])-20).attr("width",36).attr("height",40)
  .attr("fill","none").attr("stroke","#0000ff").attr("stroke-width",2.6);
// DEB star
plot.append("g").selectAll("path").data(deb).join("path")
  .attr("transform",d=>`translate(${x(d[0])},${y(d[1])}) scale(1,1.08)`)
  .attr("d",d3.symbol(d3.symbolStar).size(250)).attr("fill","#0b7d0b");

// labels
const bssOff = [[31,1],[9,0],[32,0],[8,2],[33,0],[31,0],[32,0],[33,2],[11,2]];
const rcOff = [[5,-1],[13,-3],[7,-5]];
const yssOff = [[32,0],[31,-2],[34,-2]];
const lab = svg.append("g").attr("font-family",FONT).attr("font-size",36).attr("fill","#111");
bss.forEach((d,i)=>lab.append("text").attr("x",x(d[0])+bssOff[i][0]).attr("y",y(d[1])+bssOff[i][1]).text(d[3]));
rc.forEach((d,i)=>lab.append("text").attr("x",x(d[0])+rcOff[i][0]).attr("y",y(d[1])+rcOff[i][1]).text(d[3]));
yss.forEach((d,i)=>lab.append("text").attr("x",x(d[0])+yssOff[i][0]).attr("y",y(d[1])+yssOff[i][1]).text(d[2]));
squeeze(lab.selectAll("text"),0.92);

// frame
svg.append("rect").attr("x",P.l).attr("y",P.t).attr("width",P.r-P.l).attr("height",P.b-P.t)
  .attr("fill","none").attr("stroke","#000").attr("stroke-width",2.2);

// axes
const yAx = svg.append("g").attr("transform",`translate(${P.l},0)`)
  .call(d3.axisLeft(y).tickValues(yMajorTicks).tickSize(13).tickPadding(11).tickFormat(d3.format("d")));
const yMin = svg.append("g").attr("transform",`translate(${P.l},0)`)
  .call(d3.axisLeft(y).tickValues(d3.range(10,20.01,0.5).filter(v=>v%2!==0)).tickSize(8).tickFormat(""));
const xAx = svg.append("g").attr("transform",`translate(0,${P.b})`)
  .call(d3.axisBottom(x).tickValues(xMajorTicks).tickSize(16).tickPadding(16).tickFormat(d3.format(".2f")));
const xMin = svg.append("g").attr("transform",`translate(0,${P.b})`)
  .call(d3.axisBottom(x).tickValues(d3.range(-0.05,2.1,0.05).filter(v=>Math.abs(v/0.25-Math.round(v/0.25))>0.01)).tickSize(10).tickFormat(""));
[yAx,yMin,xAx,xMin].forEach(g=>{
  g.select(".domain").remove();
  g.selectAll("line").attr("stroke","#000").attr("stroke-width",2);
  g.selectAll("text").attr("font-family",FONT).attr("fill","#111");
});
yAx.selectAll("text").attr("font-size",51);
xAx.selectAll("text").attr("font-size",53);
squeeze(yAx.selectAll("text"),0.88);
squeeze(xAx.selectAll("text"),0.86);

// colorbar
svg.append("rect").attr("x",cb.l).attr("y",P.t).attr("width",cb.r-cb.l).attr("height",P.b-P.t).attr("fill","url(#cbg)")
  .attr("stroke","#000").attr("stroke-width",2);
const cAx = svg.append("g").attr("transform",`translate(${cb.r},0)`)
  .call(d3.axisRight(cy).tickValues(cbTicks).tickSize(12).tickPadding(13).tickFormat(d3.format(".1f")));
cAx.select(".domain").remove();
cAx.selectAll("line").attr("stroke","#000").attr("stroke-width",2);
cAx.selectAll("text").attr("font-family",FONT).attr("font-size",40).attr("fill","#111");
squeeze(cAx.selectAll("text"),0.85);

// axis titles
svg.append("text").attr("x",836).attr("y",1442).attr("text-anchor","middle")
  .attr("font-family",FONT).attr("font-weight","bold").attr("font-size",57).attr("fill","#000")
  .attr("textLength",293).attr("lengthAdjust","spacingAndGlyphs").text("BP-RP [mag]");
svg.append("text").attr("transform","translate(67,683) rotate(-90)").attr("text-anchor","middle")
  .attr("font-family",FONT).attr("font-weight","bold").attr("font-size",43).attr("fill","#000")
  .attr("textLength",212).attr("lengthAdjust","spacingAndGlyphs").text("G [mag]");
svg.append("text").attr("transform","translate(1679,683) rotate(-90)").attr("text-anchor","middle")
  .attr("font-family",FONT).attr("font-size",42).attr("fill","#222")
  .attr("textLength",475).attr("lengthAdjust","spacingAndGlyphs").text("Membership probability");

// NGC box
svg.append("rect").attr("x",201).attr("y",93).attr("width",417).attr("height",110)
  .attr("fill","#fff").attr("stroke","#000").attr("stroke-width",1.8);
svg.append("text").attr("x",224).attr("y",173).attr("font-family","Lato, 'Open Sans', sans-serif").attr("font-size",68)
  .attr("fill","#000").attr("textLength",298).attr("lengthAdjust","spacingAndGlyphs").text("NGC 2506");

// legend
const L = {x:172, y:1450, w:1331, h:254};
svg.append("rect").attr("x",L.x+7).attr("y",L.y+9).attr("width",L.w).attr("height",L.h).attr("rx",6)
  .attr("fill","#888").attr("opacity",0.55);
svg.append("rect").attr("x",L.x).attr("y",L.y).attr("width",L.w).attr("height",L.h).attr("rx",6)
  .attr("fill","#fff").attr("stroke","#d0d0d0").attr("stroke-width",2);
const rows = [1481,1542,1602,1664];
const lg = svg.append("g");
const mxL = 217.5, mxR = 847.5;
lg.append("circle").attr("cx",mxL).attr("cy",rows[0]).attr("r",2.5).attr("fill","#8a8a8a");
lg.append("ellipse").attr("cx",mxL).attr("cy",rows[1]).attr("rx",16.5).attr("ry",20.5).attr("fill","none").attr("stroke","#0b7d0b").attr("stroke-width",2.6);
lg.append("line").attr("x1",180).attr("x2",254).attr("y1",rows[2]).attr("y2",rows[2]).attr("stroke","#000").attr("stroke-width",4.5);
lg.append("path").attr("transform",`translate(${mxL},${rows[3]})`).attr("d","M-9,-12L9,-12L0,13Z").attr("fill","none").attr("stroke","#000").attr("stroke-width",2.6);
lg.append("path").attr("transform",`translate(${mxR},${rows[0]}) scale(1,1.08)`).attr("d",d3.symbol(d3.symbolStar).size(250)).attr("fill","#0b7d0b");
lg.append("ellipse").attr("cx",mxR).attr("cy",rows[1]).attr("rx",15.5).attr("ry",19).attr("fill","none").attr("stroke","#00ffff").attr("stroke-width",2.6);
lg.append("rect").attr("x",mxR-17).attr("y",rows[2]-20).attr("width",34).attr("height",40).attr("fill","none").attr("stroke","#0000ff").attr("stroke-width",2.6);
lg.append("line").attr("x1",809).attr("x2",879).attr("y1",rows[3]).attr("y2",rows[3]).attr("stroke","#ff00ff").attr("stroke-width",4.5).attr("stroke-dasharray","17,8");
const lt = svg.append("g").attr("font-family",FONT).attr("font-size",38).attr("fill","#111");
legendLeft.forEach((s,i)=>lt.append("text").attr("x",280).attr("y",rows[i]+14).text(s));
legendRight.forEach((s,i)=>lt.append("text").attr("x",908).attr("y",rows[i]+14).text(s));
squeeze(lt.selectAll("text"),0.93);
</script>
</body></html>
